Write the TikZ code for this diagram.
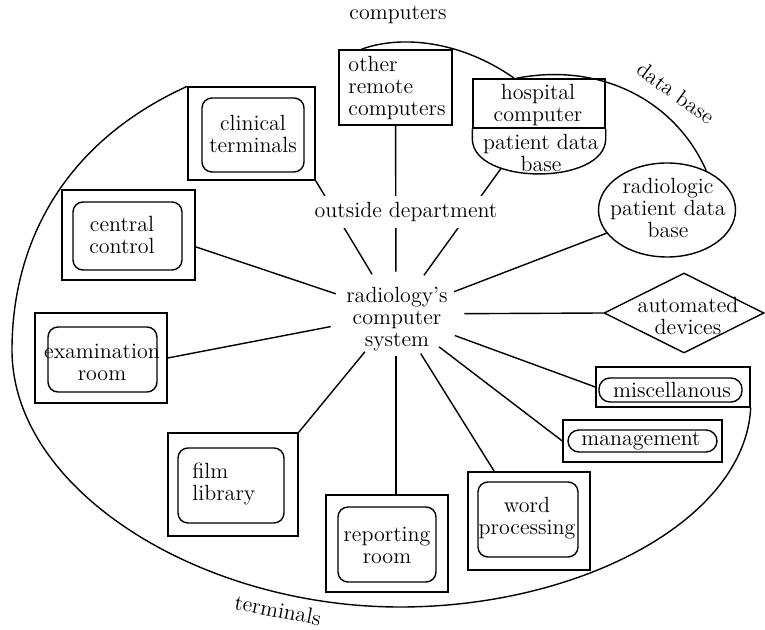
\documentclass[tikz,border=0pt]{standalone}
\usetikzlibrary{shapes.geometric,fit,calc}
\begin{document}
\begin{tikzpicture}[x=0.5pt,y=-0.5pt,
  txt/.style={font=\fontsize{11}{11}\selectfont, align=center, inner sep=0pt},
  frame/.style={draw, line width=0.7pt, inner sep=0pt},
  screen/.style={draw, line width=0.7pt, inner sep=0pt, rounded corners=5pt},
  pill/.style={draw, line width=0.7pt, inner sep=0pt, rounded corners=5.5pt},
  link/.style={line width=0.7pt},
  rim/.style={line width=0.7pt},
]
\useasboundingbox (0,0) rectangle (765,630);

% hub of the star
\node[ellipse, minimum width=68pt, minimum height=42pt, inner sep=0pt] (hub) at (396,314) {};
\node[txt] (hubtext) at (397,319) {radiology's\\computer\\system};

% terminals: outer frame with a rounded screen inside
\node[frame, fit={(188,87) (315,180)}] (ct) {};
\node[screen, fit={(202,98) (304,172)}] (ct-in) {};
\node[txt] at (253,134) {clinical\\terminals};

\node[frame, fit={(62,190) (195,280)}] (cc) {};
\node[screen, fit={(73,202) (182,270)}] (cc-in) {};
\node[txt] at (122,235) {central\\control};

\node[frame, fit={(35,313) (167,403)}] (ex) {};
\node[screen, fit={(48,327) (157,392)}] (ex-in) {};
\node[txt] at (102,362) {examination\\room};

\node[frame, fit={(168,433) (298,536)}] (fl) {};
\node[screen, fit={(178,448) (284,523)}] (fl-in) {};
\node[txt, align=left, anchor=west] at (192,484) {film\\library};

\node[frame, fit={(326,495) (448,592)}] (rr) {};
\node[screen, fit={(338,507) (436,582)}] (rr-in) {};
\node[txt] at (387,545) {reporting\\room};

\node[frame, fit={(468,472) (590,570)}] (wp) {};
\node[screen, fit={(478,482) (578,557)}] (wp-in) {};
\node[txt] at (527,518) {word\\processing};

\node[frame, fit={(563,420) (722,462)}] (mg) {};
\node[pill, fit={(568,430) (717,452)}] (mg-in) {};
\node[txt] at (641,441) {management};

\node[frame, fit={(596,367) (750,407)}] (mi) {};
\node[pill, fit={(599,378) (742,402)}] (mi-in) {};
\node[txt] at (672,390) {miscellanous};

% devices and data stores
\node[draw, diamond, line width=0.7pt, minimum width=80pt, minimum height=40pt, inner sep=0pt] (auto) at (684,313) {};
\node[txt] at (688,316) {automated\\devices};

\node[draw, ellipse, line width=0.7pt, minimum width=68.5pt, minimum height=47pt, inner sep=0pt] (rad) at (667,210) {};
\node[txt] at (668,208) {radiologic\\patient data\\base};

\node[frame, fit={(339,50) (452,125)}] (orc) {};
\node[txt, align=left] at (397,88) {other\\remote\\computers};

\node[frame, fit={(473,79) (605,128)}] (hosp) {};
\draw[rim] (hosp.south west) -- ++(0,10)
  .. controls +(0,47) and +(0,47) .. ($(hosp.south east)+(0,10)$) coordinate[pos=0.3] (hb)
  -- (hosp.south east);
\node[txt] at (538,105) {hospital\\computer};
\node[txt] at (541,153) {patient data\\base};

% boundary of the department
\draw[rim] (ct.north west)
  .. controls (62,143) and (12,245) .. (12,350)
  .. controls (12,490) and (200,607) .. (400,607)
  .. controls (580,607) and (745,520) .. (mi.south east);
\draw[rim] ($(orc.north west)+(23,0)$) .. controls (400,35) and (460,40) .. ($(hosp.north west)+(42,0)$);
\draw[rim] ($(hosp.north west)+(44,0)$) .. controls (600,62) and (675,100) .. (rad.45);

\node[txt] at (398,15) {computers};
\node[txt, rotate=-36] at (676,93) {data base};
\node[txt, rotate=-11] at (278,610) {terminals};

% connections from the hub
\draw[link] (hub) -- (orc);
\draw[link] (hub) -- (ct.south east);
\draw[link] (hub) -- (hb);
\draw[link] (hub) -- (rad);
\draw[link] (hub) -- (auto.west);
\draw[link] (hub) -- (mi.west);
\draw[link] (hub) -- (mg.west);
\draw[link] (hub) -- (wp.125);
\draw[link] (hub) -- (hub |- rr.north);
\draw[link] (hub) -- (fl.north east);
\draw[link] (hub) -- (ex.east);
\draw[link] (hub) -- (cc.-10);

\node[txt, fill=white, inner xsep=3pt, inner ysep=3pt] (outside) at (406,212) {outside department};
\end{tikzpicture}
\end{document}
